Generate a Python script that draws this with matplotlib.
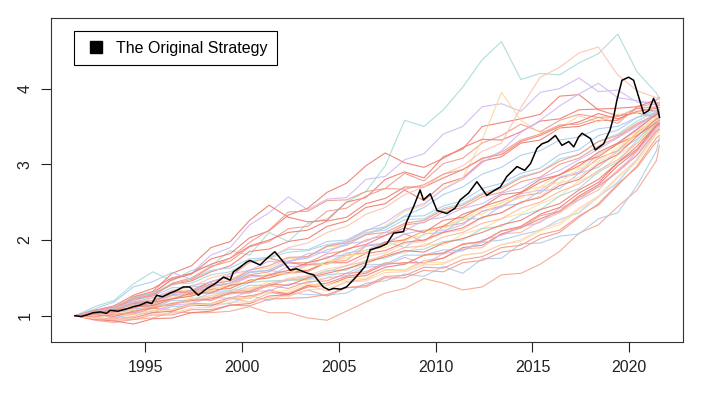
import matplotlib
matplotlib.use("Agg")
import matplotlib.pyplot as plt
from matplotlib.lines import Line2D

# yearly sample points for the simulated paths (start ... end of 2021)
years = [1991.4 + k for k in range(31)] + [2021.55]

# simulated strategy paths
paths = [
    [1.00,1.12,1.20,1.42,1.58,1.46,1.60,1.66,1.86,1.80,2.10,1.98,2.22,2.28,2.50,2.64,2.98,3.58,3.50,3.72,4.02,4.38,4.62,4.12,4.20,4.18,4.34,4.46,4.72,4.22,3.94,3.86],
    [1.00,1.07,1.10,1.24,1.30,1.48,1.56,1.80,1.90,2.20,2.36,2.57,2.40,2.54,2.56,2.80,2.84,3.06,3.14,3.40,3.50,3.76,3.80,3.70,3.95,4.00,4.14,3.96,3.98,3.82,3.82,3.78],
    [1.00,1.06,1.08,1.25,1.32,1.56,1.66,1.90,1.98,2.26,2.46,2.30,2.24,2.26,2.50,2.56,2.80,2.90,2.82,3.10,3.20,3.50,3.55,3.60,3.66,3.90,3.92,3.72,3.64,3.68,3.62,3.65],
    [1.00,0.94,0.91,0.95,0.97,1.05,1.04,1.04,1.06,1.12,1.04,1.04,0.97,0.94,1.06,1.18,1.30,1.36,1.49,1.43,1.34,1.38,1.54,1.56,1.68,1.85,2.09,2.20,2.44,2.66,3.05,3.25],
    [1.00,1.03,0.97,1.02,1.04,1.12,1.13,1.15,1.16,1.27,1.20,1.30,1.28,1.27,1.30,1.43,1.46,1.55,1.52,1.65,1.56,1.75,1.76,1.95,1.96,2.05,2.08,2.28,2.36,2.72,3.18,3.35],
    [1.00,1.06,1.07,1.18,1.20,1.31,1.33,1.35,1.40,1.53,1.53,1.56,1.58,1.71,1.73,1.92,1.95,2.08,1.98,2.18,2.22,2.38,2.45,2.58,2.62,2.82,2.88,3.08,3.18,3.42,3.60,3.60],
    [1.00,0.97,1.03,1.05,1.14,1.16,1.24,1.26,1.34,1.36,1.45,1.46,1.47,1.50,1.63,1.67,1.81,1.83,1.95,1.93,2.08,2.15,2.28,2.35,2.48,2.58,2.78,2.88,3.12,3.28,3.56,3.58],
    [1.00,1.07,1.11,1.20,1.28,1.41,1.46,1.58,1.66,1.85,1.88,1.98,2.02,2.18,2.25,2.43,2.48,2.66,2.52,2.74,2.82,3.04,3.10,3.28,3.32,3.48,3.50,3.58,3.58,3.74,3.70,3.72],
    [1.00,1.05,1.09,1.20,1.26,1.37,1.38,1.40,1.43,1.58,1.60,1.56,1.68,1.70,1.83,1.86,1.98,1.90,2.08,2.10,2.28,2.28,2.45,2.48,2.65,2.68,2.88,2.96,3.18,3.33,3.56,3.52],
    [1.00,0.96,0.96,0.99,1.07,1.06,1.14,1.16,1.24,1.18,1.30,1.30,1.40,1.33,1.45,1.48,1.61,1.60,1.73,1.76,1.88,1.90,2.08,2.10,2.25,2.36,2.53,2.66,2.93,3.13,3.46,3.48],
    [1.00,1.06,1.09,1.23,1.26,1.43,1.50,1.65,1.72,1.91,1.98,2.15,2.18,2.38,2.42,2.58,2.68,2.88,2.78,3.01,3.08,3.28,3.38,3.53,3.43,3.58,3.66,3.62,3.54,3.76,3.80,3.82],
    [1.00,1.04,1.07,1.14,1.18,1.28,1.29,1.40,1.41,1.51,1.53,1.65,1.66,1.78,1.80,1.93,1.96,2.08,2.13,2.12,2.20,2.38,2.43,2.61,2.66,2.83,2.90,3.13,3.28,3.47,3.67,3.70],
    [1.00,0.97,0.96,0.97,1.04,1.06,1.14,1.13,1.22,1.23,1.34,1.28,1.40,1.43,1.52,1.56,1.68,1.70,1.70,1.76,1.90,1.93,2.08,2.16,2.28,2.38,2.58,2.73,2.98,3.18,3.50,3.52],
    [1.00,1.05,1.07,1.17,1.20,1.33,1.34,1.45,1.48,1.61,1.63,1.75,1.78,1.91,1.93,2.08,2.18,2.38,2.46,2.68,2.82,3.32,3.95,3.58,3.42,3.48,3.64,3.56,3.66,3.68,3.76,3.72],
    [1.00,1.03,1.05,1.12,1.13,1.24,1.26,1.32,1.33,1.44,1.46,1.47,1.50,1.60,1.60,1.73,1.76,1.85,1.88,1.98,2.00,2.15,2.18,2.33,2.40,2.58,2.68,2.90,3.03,3.32,3.58,3.60],
    [1.00,1.07,1.13,1.27,1.36,1.50,1.56,1.68,1.76,1.92,2.00,2.10,2.13,2.25,2.30,2.48,2.55,2.70,2.70,2.82,2.93,3.08,3.13,3.30,3.38,3.50,3.56,3.67,3.60,3.70,3.74,3.75],
    [1.00,1.03,1.04,1.10,1.10,1.17,1.18,1.27,1.28,1.37,1.38,1.50,1.53,1.62,1.66,1.78,1.83,1.95,1.98,2.10,2.13,2.30,2.36,2.50,2.58,2.75,2.83,3.02,3.16,3.40,3.60,3.62],
    [1.00,1.09,1.18,1.38,1.45,1.57,1.48,1.60,1.63,1.75,1.77,1.88,1.87,1.98,2.00,2.13,2.17,2.31,2.32,2.45,2.52,2.68,2.75,2.88,2.95,3.13,3.19,3.38,3.45,3.62,3.72,3.70],
    [1.00,0.96,0.94,0.95,1.01,1.01,1.08,1.08,1.14,1.13,1.22,1.23,1.24,1.28,1.37,1.40,1.52,1.53,1.64,1.63,1.74,1.78,1.90,1.93,2.07,2.13,2.32,2.46,2.72,2.98,3.35,3.38],
    [1.00,1.06,1.11,1.24,1.30,1.48,1.55,1.75,1.82,2.03,2.12,2.33,2.42,2.63,2.75,2.98,3.15,3.02,2.96,3.08,3.22,3.33,3.32,3.43,3.57,3.60,3.72,3.73,3.74,3.76,3.85,3.88],
    [1.00,1.04,1.05,1.14,1.16,1.24,1.26,1.37,1.38,1.47,1.50,1.60,1.60,1.72,1.76,1.87,1.90,2.02,2.06,2.20,2.26,2.42,2.48,2.64,2.70,2.87,2.96,3.14,3.26,3.44,3.62,3.65],
    [1.00,0.98,1.01,1.02,1.10,1.08,1.16,1.16,1.24,1.26,1.32,1.26,1.34,1.26,1.37,1.38,1.50,1.50,1.60,1.58,1.70,1.73,1.84,1.88,2.02,2.10,2.30,2.48,2.74,2.96,3.30,3.32],
    [1.00,1.01,0.97,1.04,1.06,1.14,1.16,1.24,1.23,1.32,1.33,1.42,1.43,1.50,1.53,1.64,1.66,1.77,1.68,1.82,1.86,2.00,2.06,2.17,2.23,2.42,2.53,2.72,2.90,3.17,3.48,3.50],
    [1.00,1.05,1.07,1.16,1.18,1.30,1.33,1.45,1.52,1.71,1.76,1.70,1.67,1.68,1.80,1.83,1.97,2.00,2.12,2.18,2.34,2.43,2.60,2.63,2.80,2.86,3.02,3.10,3.27,3.38,3.55,3.58],
    [1.00,1.04,1.04,1.09,1.11,1.20,1.20,1.30,1.30,1.40,1.40,1.47,1.48,1.54,1.56,1.67,1.68,1.80,1.80,1.87,1.86,1.97,2.00,2.07,2.13,2.27,2.36,2.57,2.76,3.07,3.42,3.45],
    [1.00,1.05,1.09,1.18,1.23,1.34,1.38,1.50,1.56,1.70,1.76,1.90,1.96,2.10,2.18,2.34,2.43,2.60,2.70,2.87,2.98,3.17,3.28,3.75,4.15,4.28,4.47,4.55,4.18,3.97,3.88,3.86],
    [1.00,1.03,1.06,1.14,1.14,1.27,1.28,1.38,1.43,1.54,1.58,1.70,1.70,1.82,1.86,2.00,2.06,2.20,2.23,2.37,2.43,2.57,2.63,2.77,2.83,3.00,3.08,3.24,3.36,3.52,3.68,3.70],
    [1.00,0.95,0.93,0.89,0.96,0.97,1.04,1.06,1.14,1.16,1.26,1.28,1.38,1.40,1.50,1.53,1.64,1.68,1.80,1.83,1.94,1.98,2.12,2.18,2.34,2.43,2.62,2.76,3.02,3.20,3.52,3.55],
    [1.00,0.97,1.01,1.01,1.07,1.08,1.14,1.16,1.22,1.23,1.32,1.33,1.42,1.40,1.47,1.50,1.60,1.60,1.70,1.70,1.80,1.83,1.94,1.98,2.12,2.20,2.40,2.56,2.82,3.03,3.40,3.42],
    [1.00,1.06,1.11,1.24,1.30,1.42,1.43,1.54,1.58,1.72,1.76,1.84,1.86,1.94,1.98,2.10,2.13,2.27,2.28,2.42,2.48,2.62,2.70,2.84,2.90,3.07,3.13,3.30,3.40,3.57,3.70,3.72],
    [1.00,1.07,1.11,1.22,1.28,1.42,1.48,1.64,1.76,1.97,2.13,2.37,2.38,2.52,2.53,2.64,2.68,2.67,2.73,2.87,2.93,3.07,3.16,3.32,3.40,3.52,3.53,3.62,3.63,3.74,3.76,3.78],
    [1.00,1.04,1.05,1.14,1.16,1.27,1.30,1.40,1.43,1.57,1.60,1.72,1.78,1.92,1.98,2.12,2.23,2.40,2.48,2.67,2.80,3.02,3.18,3.42,3.58,3.77,3.93,4.07,3.88,3.84,3.78,3.80],
    [1.00,1.03,1.04,1.12,1.13,1.22,1.26,1.34,1.36,1.47,1.50,1.57,1.60,1.70,1.70,1.82,1.86,1.97,2.00,2.10,2.16,2.30,2.36,2.50,2.56,2.72,2.80,3.00,3.13,3.37,3.60,3.62],
    [1.00,1.05,1.07,1.17,1.20,1.30,1.33,1.42,1.46,1.57,1.60,1.72,1.76,1.87,1.93,2.07,2.16,2.32,2.43,2.60,2.70,2.87,2.96,3.12,3.18,3.32,3.36,3.47,3.50,3.62,3.68,3.66],
    [1.00,0.96,0.96,0.96,1.02,1.03,1.10,1.11,1.18,1.18,1.24,1.26,1.34,1.36,1.44,1.46,1.57,1.58,1.67,1.68,1.80,1.83,1.94,2.00,2.14,2.23,2.42,2.58,2.84,3.06,3.42,3.45],
    [1.00,1.05,1.09,1.17,1.20,1.30,1.31,1.42,1.46,1.60,1.66,1.77,1.78,1.92,1.96,2.07,2.10,2.22,2.26,2.40,2.46,2.60,2.68,2.82,2.90,3.04,3.13,3.30,3.38,3.54,3.65,3.66],
    [1.00,1.02,0.99,1.06,1.10,1.16,1.20,1.22,1.30,1.32,1.42,1.40,1.50,1.56,1.62,1.70,1.78,1.86,1.84,1.96,2.02,2.10,2.20,2.26,2.40,2.48,2.66,2.80,3.02,3.24,3.52,3.54],
    [1.00,1.04,1.06,1.13,1.18,1.24,1.30,1.33,1.42,1.45,1.56,1.55,1.66,1.68,1.80,1.82,1.94,1.98,2.12,2.14,2.30,2.34,2.50,2.55,2.70,2.76,2.94,3.04,3.22,3.40,3.62,3.64],
    [1.00,0.99,1.02,1.04,1.12,1.14,1.22,1.20,1.30,1.30,1.40,1.36,1.45,1.46,1.56,1.58,1.70,1.68,1.80,1.82,1.95,1.98,2.12,2.16,2.32,2.38,2.56,2.70,2.90,3.12,3.44,3.46],
    [1.00,1.05,1.10,1.18,1.24,1.32,1.40,1.44,1.55,1.60,1.72,1.70,1.82,1.84,1.95,1.98,2.10,2.12,2.26,2.30,2.42,2.48,2.62,2.68,2.82,2.92,3.06,3.20,3.35,3.50,3.68,3.70],
    [1.00,1.03,1.08,1.10,1.18,1.22,1.30,1.30,1.40,1.44,1.54,1.60,1.70,1.76,1.88,1.94,2.06,2.16,2.10,2.26,2.30,2.44,2.52,2.62,2.76,2.86,2.98,3.16,3.28,3.46,3.66,3.68],
    [1.00,1.01,1.04,1.07,1.12,1.15,1.21,1.24,1.32,1.34,1.42,1.48,1.52,1.58,1.66,1.72,1.80,1.90,1.92,2.04,2.10,2.22,2.28,2.42,2.50,2.64,2.74,2.92,3.06,3.28,3.54,3.56],
]

path_colors = [
    "#A9DADA", "#D0B8F2", "#EE7B6E", "#F6A58E", "#A9CCEE", "#F3998A",
    "#FDE29A", "#EE7B6E", "#A9CCEE", "#FBB79F", "#F3998A", "#D0B8F2",
    "#EE7B6E", "#FDD69A", "#A9DADA", "#EE7B6E", "#FDD0BC", "#A9CCEE",
    "#F3998A", "#EE7B6E", "#FDE29A", "#F3998A", "#D0B8F2", "#EE7B6E",
    "#A9CCEE", "#FDC3AE", "#F3998A", "#EE7B6E", "#FDE29A", "#A9DADA",
    "#F3998A", "#D0B8F2", "#EE7B6E", "#A9CCEE", "#FDD0BC", "#F3998A",
    "#EE7B6E", "#FDE29A", "#F3998A", "#D0B8F2", "#EE7B6E", "#FBB79F",
]

# the original strategy (black line)
orig_x = [1991.38, 1991.7, 1992.0, 1992.33, 1992.7, 1993.0, 1993.2, 1993.6, 1994.05, 1994.4, 1994.74,
          1995.1, 1995.35, 1995.6, 1995.9, 1996.3, 1996.6, 1996.98, 1997.3, 1997.75, 1998.2, 1998.6,
          1999.05, 1999.4, 1999.56, 1999.9, 2000.25, 2000.42, 2000.94, 2001.3, 2001.7, 2002.14,
          2002.49, 2002.8, 2003.0, 2003.4, 2003.7, 2004.2, 2004.5, 2004.73, 2005.1, 2005.4,
          2005.85, 2006.36, 2006.62, 2007.14, 2007.48, 2007.83, 2008.34, 2008.5, 2008.86, 2009.2,
          2009.37, 2009.72, 2010.07, 2010.58, 2011.0, 2011.27, 2011.7, 2012.13, 2012.64, 2013.0, 2013.34,
          2013.68, 2014.2, 2014.6, 2014.9, 2015.23, 2015.49, 2015.8, 2016.18, 2016.52, 2016.87, 2017.13,
          2017.38, 2017.56, 2017.99, 2018.24, 2018.67, 2019.0, 2019.19, 2019.36, 2019.62, 2019.96,
          2020.22, 2020.48, 2020.74, 2021.0, 2021.25, 2021.43, 2021.56]
orig_y = [1.00, 0.99, 1.01, 1.04, 1.05, 1.03, 1.07, 1.06, 1.09, 1.12, 1.14,
          1.18, 1.16, 1.27, 1.25, 1.30, 1.33, 1.38, 1.38, 1.27, 1.36, 1.42,
          1.51, 1.47, 1.58, 1.64, 1.71, 1.73, 1.67, 1.76, 1.845, 1.71,
          1.60, 1.62, 1.60, 1.56, 1.54, 1.38, 1.34, 1.36, 1.35, 1.38,
          1.50, 1.65, 1.87, 1.91, 1.95, 2.09, 2.11, 2.24, 2.44, 2.66,
          2.53, 2.61, 2.39, 2.35, 2.42, 2.53, 2.62, 2.77, 2.59, 2.65, 2.70,
          2.84, 2.97, 2.92, 3.01, 3.21, 3.27, 3.30, 3.38, 3.25, 3.30, 3.23,
          3.36, 3.41, 3.34, 3.19, 3.27, 3.45, 3.63, 3.85, 4.11, 4.15,
          4.11, 3.89, 3.67, 3.71, 3.87, 3.76, 3.62]

x_ticks = [1995, 2000, 2005, 2010, 2015, 2020]
y_ticks = [1, 2, 3, 4]

plt.rcParams['font.family'] = ['Liberation Sans', 'DejaVu Sans']

fig = plt.figure(figsize=(7.1, 3.95), dpi=100)
ax = fig.add_axes([0.0714, 0.135, 0.8906, 0.819])

for vals, col in zip(paths, path_colors):
    ax.plot(years, vals, color=col, lw=0.8, alpha=0.9)
ax.plot(orig_x, orig_y, color="black", lw=1.1)

ax.set_xlim(1990.13, 2022.77)
ax.set_ylim(0.657, 4.93)
ax.set_xticks(x_ticks)
ax.set_yticks(y_ticks)
ax.set_xticklabels([str(t) for t in x_ticks])
ax.set_yticklabels([str(t) for t in y_ticks], rotation=90, va='center')
ax.tick_params(direction='out', length=7, width=0.8, labelsize=11.5, pad=6, colors='#222222')
for s in ax.spines.values():
    s.set_linewidth(0.8)
    s.set_color('#333333')

handle = Line2D([], [], marker='s', color='black', linestyle='none', markersize=9)
leg = ax.legend([handle], ["The Original Strategy"], loc='upper left',
                bbox_to_anchor=(0.037, 0.96), fancybox=False, framealpha=1,
                edgecolor='black', fontsize=11.5, borderpad=0.6,
                handletextpad=0.5, handlelength=1.5, borderaxespad=0)
leg.get_frame().set_linewidth(0.8)

fig.savefig("out.png", dpi=100)
